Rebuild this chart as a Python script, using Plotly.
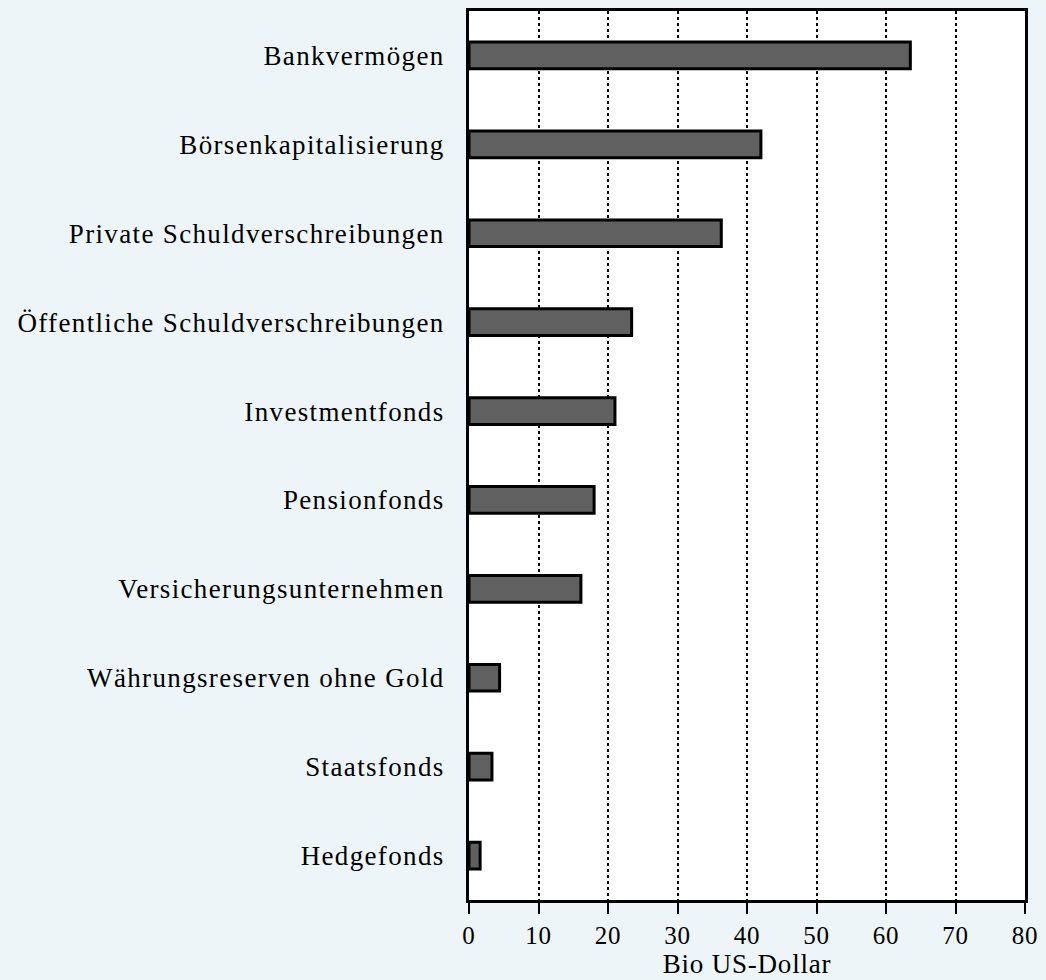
import plotly.graph_objects as go

categories = [
    "Bankvermögen",
    "Börsenkapitalisierung",
    "Private Schuldverschreibungen",
    "Öffentliche Schuldverschreibungen",
    "Investmentfonds",
    "Pensionfonds",
    "Versicherungsunternehmen",
    "Währungsreserven ohne Gold",
    "Staatsfonds",
    "Hedgefonds",
]
values = [63.5, 42.0, 36.3, 23.4, 21.0, 18.0, 16.1, 4.4, 3.3, 1.6]
x_ticks = [0, 10, 20, 30, 40, 50, 60, 70, 80]
x_title = "Bio US-Dollar"

FONT = "Liberation Serif, Times New Roman, serif"

fig = go.Figure(
    go.Bar(
        x=values,
        y=categories,
        orientation="h",
        width=0.3,
        marker=dict(color="#606060", line=dict(color="black", width=3)),
        hoverinfo="x+y",
    )
)

fig.update_layout(
    width=1046,
    height=980,
    margin=dict(l=469, r=18, t=8, b=77),
    paper_bgcolor="#EDF5F9",
    plot_bgcolor="white",
    showlegend=False,
    font=dict(family=FONT, color="black"),
    bargap=0.7,
)

fig.update_xaxes(
    range=[0, 80],
    tickvals=x_ticks,
    ticktext=[str(v) for v in x_ticks],
    tickfont=dict(size=25, family=FONT, color="black"),
    ticks="outside",
    ticklen=11,
    tickwidth=2,
    tickcolor="black",
    ticklabelstandoff=0,
    showline=True,
    linecolor="black",
    linewidth=3,
    mirror=True,
    showgrid=True,
    gridcolor="black",
    gridwidth=2,
    griddash="dot",
    zeroline=False,
    title=dict(text=x_title, font=dict(size=27, family=FONT, color="black"), standoff=4),
    fixedrange=True,
)

fig.update_yaxes(
    autorange="reversed",
    tickfont=dict(size=27, family=FONT, color="black"),
    ticks="",
    ticklabelstandoff=16,
    showline=True,
    linecolor="black",
    linewidth=3,
    mirror=True,
    showgrid=False,
    zeroline=False,
    fixedrange=True,
)

post = (
    "document.body.style.margin='0';"
    "document.body.style.padding='0';"
    "document.body.style.background='#EDF5F9';"
    "document.querySelectorAll('.ytick text').forEach(function(t){t.style.letterSpacing='1.35px';});"
    "document.querySelectorAll('.xtick text, .xtitle').forEach(function(t){t.style.letterSpacing='0.8px';});"
)

fig.write_html("out.html", post_script=post, config={"displayModeBar": False})
